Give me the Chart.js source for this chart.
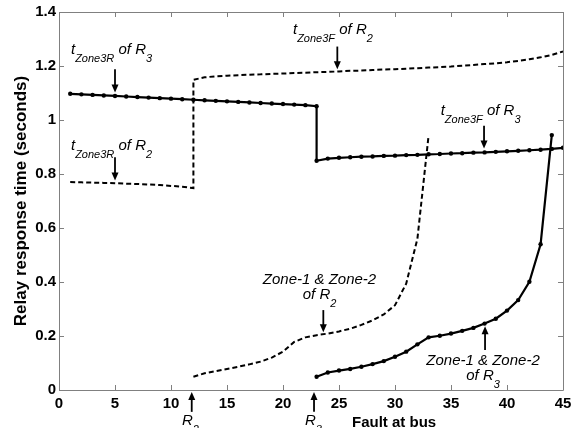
<!DOCTYPE html>
<html>
<head>
<meta charset="utf-8">
<script src="https://cdn.jsdelivr.net/npm/chart.js@4.4.1/dist/chart.umd.min.js"></script>
<style>
  html, body { margin: 0; padding: 0; background: #fff; }
  canvas { display: block; }
</style>
</head>
<body>
<canvas id="graph" width="580" height="428"></canvas>
<script>
// fault bus numbers and relay times
const r3Zone3X = [1,2,3,4,5,6,7,8,9,10,11,12,13,14,15,16,17,18,19,20,21,22,23,
                  23,24,25,26,27,28,29,30,31,32,33,34,35,36,37,38,39,40,41,42,43,44,45];
const r3Zone3Y = [1.097,1.095,1.093,1.091,1.089,1.087,1.085,1.083,1.081,1.079,1.077,1.075,1.073,1.071,1.069,1.067,1.065,1.063,1.061,1.059,1.057,1.055,1.051,
                  0.849,0.857,0.860,0.862,0.864,0.865,0.867,0.868,0.870,0.871,0.873,0.874,0.876,0.877,0.879,0.880,0.882,0.884,0.886,0.888,0.890,0.893,0.897];

const r2Zone3X = [1,2,3,4,5,6,7,8,9,10,11,12,
                  12,13,14,15,16,17,18,19,20,21,22,23,24,25,26,27,28,29,30,31,32,33,34,35,36,37,38,39,40,41,42,43,44,45];
const r2Zone3Y = [0.770,0.769,0.768,0.767,0.766,0.764,0.763,0.761,0.759,0.756,0.753,0.748,
                  1.149,1.158,1.162,1.164,1.166,1.168,1.169,1.171,1.172,1.174,1.175,1.177,1.178,1.180,1.182,1.183,1.185,1.187,1.188,1.190,1.192,1.194,1.196,1.198,1.201,1.204,1.207,1.210,1.214,1.219,1.225,1.232,1.241,1.254];

const r2Zone12X = [12,13,14,15,16,17,18,19,20,21,22,23,24,25,26,27,28,29,30,31,32,33];
const r2Zone12Y = [0.049,0.062,0.070,0.078,0.086,0.095,0.105,0.120,0.142,0.178,0.195,0.203,0.209,0.217,0.227,0.241,0.258,0.280,0.314,0.394,0.560,0.943];

const r3Zone12X = [23,24,25,26,27,28,29,30,31,32,33,34,35,36,37,38,39,40,41,42,43,44];
const r3Zone12Y = [0.049,0.065,0.072,0.078,0.086,0.096,0.107,0.123,0.142,0.169,0.195,0.201,0.209,0.219,0.230,0.246,0.264,0.294,0.333,0.401,0.540,0.944];

const xTicks = [0,5,10,15,20,25,30,35,40,45];
const yTicks = [0,0.2,0.4,0.6,0.8,1,1.2,1.4];

const xTitle = "Fault at bus";
const yTitle = "Relay response time (seconds)";

// labels: anchor in data units, runs of [text, 'm' main | 's' subscript]
const notes = [
  { x: 1.07, y: 1.244, align: 'left', runs: [['t','m'],['Zone3R','s'],[' of R','m'],['3','s']] },
  { x: 1.07, y: 0.890, align: 'left', runs: [['t','m'],['Zone3R','s'],[' of R','m'],['2','s']] },
  { x: 20.89, y: 1.319, align: 'left', runs: [['t','m'],['Zone3F','s'],[' of R','m'],['2','s']] },
  { x: 34.08, y: 1.020, align: 'left', runs: [['t','m'],['Zone3F','s'],[' of R','m'],['3','s']] },
  { x: 23.26, y: 0.393, align: 'center', runs: [['Zone-1 & Zone-2','m']] },
  { x: 23.26, y: 0.338, align: 'center', runs: [['of R','m'],['2','s']] },
  { x: 37.86, y: 0.092, align: 'center', runs: [['Zone-1 & Zone-2','m']] },
  { x: 37.86, y: 0.037, align: 'center', runs: [['of R','m'],['3','s']] },
  { x: 10.98, y: -0.129, align: 'left', runs: [['R','m'],['2','s']] },
  { x: 21.96, y: -0.129, align: 'left', runs: [['R','m'],['3','s']] }
];

// arrows: [x, tail y, head y]
const arrows = [
  [5, 1.188, 1.102],
  [5, 0.862, 0.776],
  [24.85, 1.272, 1.188],
  [37.95, 0.979, 0.894],
  [23.6, 0.296, 0.214],
  [38.04, 0.148, 0.236],
  [11.85, -0.081, -0.007],
  [22.77, -0.081, -0.007]
];

const pts = (xs, ys) => xs.map((x, i) => ({ x: x, y: ys[i] }));

const mainFont = "italic 15px 'Liberation Sans', Arial, sans-serif";
const subFont = "italic 11px 'Liberation Sans', Arial, sans-serif";

const frame = {
  id: 'frame',
  afterDraw(chart) {
    const c = chart.ctx, a = chart.chartArea;
    const xs = chart.scales.x, ys = chart.scales.y;
    c.save();
    c.strokeStyle = '#808080';
    c.lineWidth = 1;
    c.beginPath();
    c.rect(Math.round(a.left) + 0.5, Math.round(a.top) + 0.5, Math.round(a.right - a.left), Math.round(a.bottom - a.top));
    xTicks.forEach(v => {
      const px = Math.round(xs.getPixelForValue(v)) + 0.5;
      c.moveTo(px, a.bottom); c.lineTo(px, a.bottom - 5);
      c.moveTo(px, a.top); c.lineTo(px, a.top + 5);
    });
    yTicks.forEach(v => {
      const py = Math.round(ys.getPixelForValue(v)) + 0.5;
      c.moveTo(a.left, py); c.lineTo(a.left + 5, py);
      c.moveTo(a.right, py); c.lineTo(a.right - 5, py);
    });
    c.stroke();

    // arrows
    c.fillStyle = '#000';
    c.strokeStyle = '#000';
    c.lineWidth = 1.8;
    arrows.forEach(([x, y0, y1]) => {
      const px = xs.getPixelForValue(x);
      const p0 = ys.getPixelForValue(y0), p1 = ys.getPixelForValue(y1);
      const dir = p1 > p0 ? 1 : -1;
      c.beginPath();
      c.moveTo(px, p0); c.lineTo(px, p1 - dir * 6);
      c.stroke();
      c.beginPath();
      c.moveTo(px, p1);
      c.lineTo(px - 3.5, p1 - dir * 8);
      c.lineTo(px + 3.5, p1 - dir * 8);
      c.closePath();
      c.fill();
    });

    // labels
    c.textBaseline = 'alphabetic';
    c.textAlign = 'left';
    notes.forEach(n => {
      let total = 0;
      n.runs.forEach(([t, k]) => {
        c.font = k === 's' ? subFont : mainFont;
        total += c.measureText(t).width;
      });
      let px = xs.getPixelForValue(n.x);
      if (n.align === 'center') px -= total / 2;
      const py = ys.getPixelForValue(n.y);
      n.runs.forEach(([t, k]) => {
        c.font = k === 's' ? subFont : mainFont;
        c.fillText(t, px, k === 's' ? py + 8 : py);
        px += c.measureText(t).width;
      });
    });

    // x title, sits right of centre like the original
    c.font = "bold 15px 'Liberation Sans', Arial, sans-serif";
    c.fillText(xTitle, xs.getPixelForValue(26.16), ys.getPixelForValue(-0.137));
    c.restore();
  }
};

new Chart(document.getElementById('graph'), {
  type: 'line',
  data: {
    datasets: [
      {
        data: pts(r2Zone3X, r2Zone3Y),
        borderColor: '#000', borderWidth: 2, borderDash: [5, 3],
        pointRadius: 0
      },
      {
        data: pts(r2Zone12X, r2Zone12Y),
        borderColor: '#000', borderWidth: 2, borderDash: [5, 3],
        pointRadius: 0
      },
      {
        data: pts(r3Zone3X, r3Zone3Y),
        borderColor: '#000', borderWidth: 2.2,
        pointRadius: 2.2, pointBackgroundColor: '#000', pointBorderWidth: 0
      },
      {
        data: pts(r3Zone12X, r3Zone12Y),
        borderColor: '#000', borderWidth: 2.2,
        pointRadius: 2.2, pointBackgroundColor: '#000', pointBorderWidth: 0
      }
    ]
  },
  options: {
    responsive: false,
    animation: false,
    devicePixelRatio: 1,
    layout: { padding: { top: 11, right: 17, left: 0, bottom: 0 } },
    elements: { line: { tension: 0 } },
    plugins: { legend: { display: false }, tooltip: { enabled: false } },
    scales: {
      x: {
        type: 'linear', min: 0, max: 45,
        afterFit: s => { s.height = 38; },
        afterBuildTicks: s => { s.ticks = xTicks.map(v => ({ value: v })); },
        grid: { display: false, drawTicks: false },
        border: { display: false },
        ticks: {
          color: '#000', padding: 5, maxRotation: 0,
          font: { family: "'Liberation Sans', Arial, sans-serif", size: 15, weight: 'bold' }
        }
      },
      y: {
        type: 'linear', min: 0, max: 1.4,
        afterFit: s => { s.width = 59; },
        afterBuildTicks: s => { s.ticks = yTicks.map(v => ({ value: v })); },
        grid: { display: false, drawTicks: false },
        border: { display: false },
        ticks: {
          color: '#000', padding: 3,
          callback: v => String(+v.toFixed(1)),
          font: { family: "'Liberation Sans', Arial, sans-serif", size: 15, weight: 'bold' }
        },
        title: {
          display: true, text: yTitle, color: '#000',
          padding: { top: 11, bottom: 0 },
          font: { family: "'Liberation Sans', Arial, sans-serif", size: 17, weight: 'bold' }
        }
      }
    }
  },
  plugins: [frame]
});
</script>
</body>
</html>
